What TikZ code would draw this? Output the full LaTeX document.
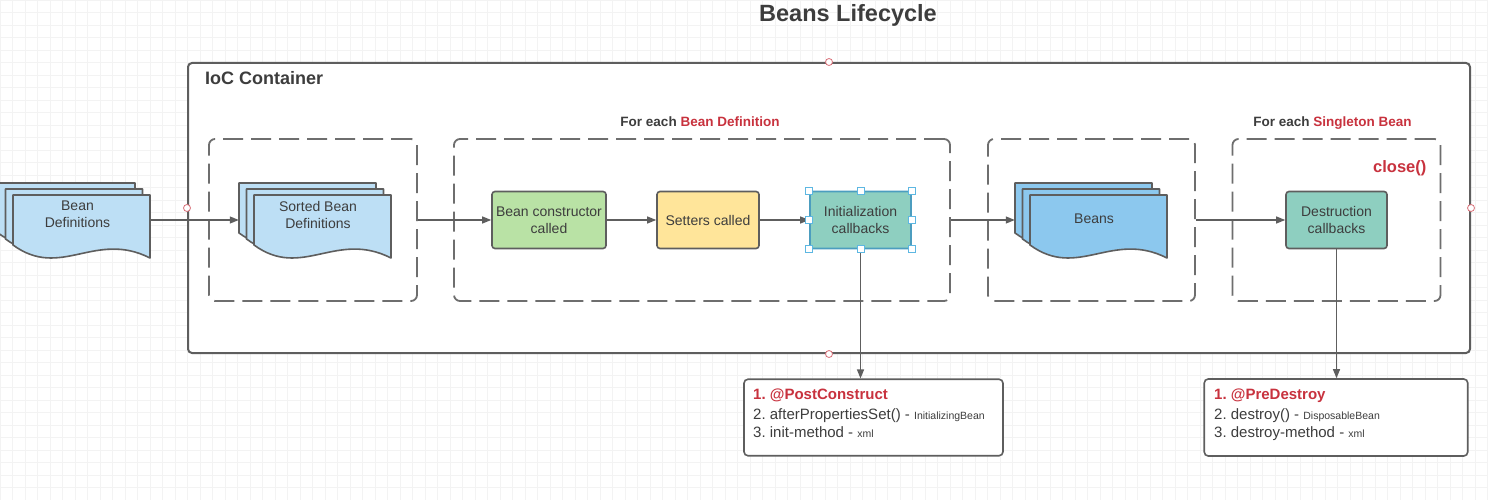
\documentclass[tikz,border=0pt]{standalone}
\usepackage{fontspec}
\setmainfont{Liberation Sans}
\frenchspacing
\usetikzlibrary{arrows.meta}
\definecolor{ln}{HTML}{5E5E5E}
\definecolor{dln}{HTML}{6E6E6E}
\definecolor{txt}{HTML}{3D3D3D}
\definecolor{hred}{HTML}{C8323E}
\definecolor{docfill}{HTML}{BDDFF5}
\definecolor{beanfill}{HTML}{8CC8EE}
\definecolor{greenfill}{HTML}{B9E2A5}
\definecolor{yellowfill}{HTML}{FFE59A}
\definecolor{tealfill}{HTML}{8ECFC0}
\definecolor{sel}{HTML}{5DB7E2}
\definecolor{selb}{HTML}{4C9DBF}
\definecolor{gridc}{HTML}{F3F3F3}
\newcommand\docsheet[3]{%
  \filldraw[docline, fill=#3] ({#1},{#2+50}) -- ({#1},{#2}) -- ({#1+137},{#2}) -- ({#1+137},{#2+63})
    .. controls ({#1+82},{#2+35}) and ({#1+48},{#2+85}) .. ({#1},{#2+50}) -- cycle;}
\tikzset{
  lbl/.style={text=txt, font=\fontsize{14}{17}\selectfont, align=center},
  proc/.style={draw=ln, line width=1.6pt, rounded corners=3pt, inner sep=0pt, lbl},
  grp/.style={draw=dln, line width=1.8pt, dash pattern=on 20pt off 8pt, rounded corners=6pt, inner sep=0pt, minimum height=162pt},
  arr/.style={draw=ln, line width=1.2pt, -{Triangle[length=9pt,width=7pt]}},
  docline/.style={draw=ln, line width=1.6pt, line join=round},
  stack/.style={inner sep=0pt, minimum height=50pt},
  listbox/.style={draw=ln, line width=1.6pt, rounded corners=4pt, fill=white, inner sep=0pt},
  listtxt/.style={anchor=base west, text=txt, inner sep=0pt, font=\fontsize{15}{18}\selectfont},
  hdr/.style={anchor=base, text=txt, inner sep=0pt, font=\bfseries\fontsize{13.5}{16}\selectfont},
  hdl/.style={draw=sel, fill=white, line width=1pt},
  pin/.style={draw=hred!70, fill=white, line width=0.8pt},
}
\begin{document}
\begin{tikzpicture}[x=1pt,y=-1pt]
\useasboundingbox (0,0) rectangle (1488,500);
\fill[white] (0,0) rectangle (1488,500);
\draw[gridc, line width=0.6pt, step=12.5pt] (0,0) grid (1488,500);

% title
\node[text=txt, font=\bfseries\fontsize{23.5}{27}\selectfont, inner sep=0pt] (title) at (848,15) {Beans Lifecycle};

% container
\node[draw=ln, line width=2pt, rounded corners=4pt, fill=white, minimum width=1282pt, minimum height=290pt, inner sep=0pt] (cont) at (829,208) {};
\node[anchor=base west, text=txt, font=\bfseries\fontsize{18}{20}\selectfont, inner sep=0pt] (ioc) at (205,85) {IoC Container};

% groups
\node[grp, minimum width=208pt] (g1) at (313,220) {};
\node[grp, minimum width=496pt] (g2) at (702,220) {};
\node[grp, minimum width=207pt] (g3) at (1091.5,220) {};
\node[grp, minimum width=208pt] (g4) at (1336.5,220) {};
\node[hdr] (h2) at (700,126.5) {For each \textcolor{hred}{Bean Definition}};
\node[hdr] (h4) at (1332.5,126.5) {For each \textcolor{hred}{Singleton Bean}};
\node[anchor=base west, text=hred, font=\bfseries\fontsize{16.5}{19}\selectfont, inner sep=0pt] (close) at (1373,172) {close()};

% document stacks
\docsheet{-2}{183}{docfill}
\docsheet{5.5}{189}{docfill}
\docsheet{13}{195}{docfill}
\node[stack, minimum width=152pt] (bd) at (74,220) {};
\node[lbl] (bdt) at (77.5,214.5) {Bean\\Definitions};

\docsheet{239}{183}{docfill}
\docsheet{246.5}{189}{docfill}
\docsheet{254}{195}{docfill}
\node[stack, minimum width=152pt] (sbd) at (315,220) {};
\node[lbl] (sbdt) at (318,214.5) {Sorted Bean\\Definitions};

\docsheet{1015}{183}{beanfill}
\docsheet{1022.5}{189}{beanfill}
\docsheet{1030}{195}{beanfill}
\node[stack, minimum width=153pt] (beans) at (1091.5,220) {};
\node[lbl] (beanst) at (1094,219) {Beans};

% process boxes
\node[proc, fill=greenfill, minimum width=114pt, minimum height=57pt] (ctor) at (549,220) {Bean constructor\\called};
\node[proc, fill=yellowfill, minimum width=102pt, minimum height=57pt] (set) at (708,220) {Setters called};
\node[proc, draw=selb, fill=tealfill, minimum width=101pt, minimum height=57pt] (init) at (860.5,220) {Initialization\\callbacks};
\node[proc, fill=tealfill, minimum width=101pt, minimum height=57pt] (destr) at (1336.5,220) {Destruction\\callbacks};

% list boxes
\node[listbox, minimum width=259pt, minimum height=76.5pt] (post) at (873.5,417.5) {};
\node[listtxt, text=hred, font=\bfseries\fontsize{15}{18}\selectfont] (p1) at (753,399.5) {1. @PostConstruct};
\node[listtxt] (p2) at (753,419) {2. afterPropertiesSet() - {\fontsize{10.5}{12}\selectfont InitializingBean}};
\node[listtxt] (p3) at (753,437.5) {3. init-method - {\fontsize{10.5}{12}\selectfont xml}};

\node[listbox, minimum width=263.5pt, minimum height=77pt] (pre) at (1336,417.5) {};
\node[listtxt, text=hred, font=\bfseries\fontsize{15}{18}\selectfont] (d1) at (1214,399.5) {1. @PreDestroy};
\node[listtxt] (d2) at (1214,419) {2. destroy() - {\fontsize{10.5}{12}\selectfont DisposableBean}};
\node[listtxt] (d3) at (1214,437.5) {3. destroy-method - {\fontsize{10.5}{12}\selectfont xml}};

% connectors
\draw[arr] (bd.east) -- (sbd.west);
\draw[arr] (g1.east) -- (ctor.west);
\draw[arr] (ctor) -- (set);
\draw[arr] (set) -- (init);
\draw[arr] (g2.east) -- (beans.west);
\draw[arr] (g3.east) -- (destr.west);
\draw[arr] (init.south) -- (init.south |- post.north);
\draw[arr] (destr.south) -- (destr.south |- pre.north);

% selection handles
\foreach \a in {north west,north,north east,west,east,south west,south,south east}
  \draw[hdl] (init.\a) ++(-3.5,-3.5) rectangle ++(7,7);
\foreach \a in {west,north,south,east}
  \draw[pin] (cont.\a) circle (3.5pt);
\end{tikzpicture}
\end{document}
